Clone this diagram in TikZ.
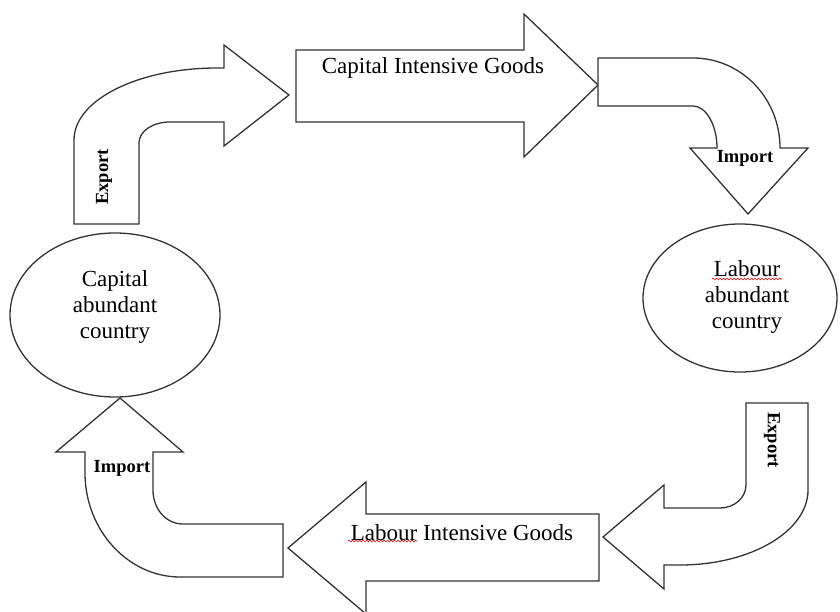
\documentclass[tikz,border=0pt]{standalone}
\usepackage{fontspec}
\setmainfont{Liberation Serif}
\usetikzlibrary{shapes.geometric,decorations.pathmorphing}
\begin{document}
\begin{tikzpicture}[x=1pt,y=-1pt,
  shapeline/.style={draw=black!80,line width=1.3pt,fill=white,line join=miter},
  country/.style={ellipse,draw=black!80,line width=1.3pt,inner sep=0pt},
  bigtxt/.style={font=\fontsize{23}{26}\selectfont,align=center,inner sep=0pt},
  smalltxt/.style={font=\fontsize{18.5}{20}\selectfont\bfseries,inner sep=0pt},
  spell/.style={draw=red!85!black,line width=0.6pt,decorate,decoration={snake,amplitude=0.9pt,segment length=3.5pt}}]
\useasboundingbox (0,0) rectangle (840,612);

% countries
\node[country,minimum width=210pt,minimum height=164pt] (cap) at (115,315) {};
\node[country,minimum width=194pt,minimum height=148pt] (lab) at (740,298) {};
\node[bigtxt] (captxt) at (115,307) {Capital\\abundant\\country};
\node[bigtxt] (labtxt) at (747,297) {Labour\\abundant\\country};

% top-left bent arrow (export)
\draw[shapeline] (74,224) -- (74,140) .. controls (74,100) and (138,68) .. (217,68)
  -- (224,68) -- (224,45) -- (289,95) -- (224,146) -- (224,122) -- (170,122)
  .. controls (153,122) and (139,131) .. (139,143) -- (139,224) -- cycle;

% top straight arrow
\draw[shapeline] (296,50) -- (524,50) -- (524,14) -- (598,85) -- (524,157)
  -- (524,122) -- (296,122) -- cycle;

% top-right bent arrow (import)
\draw[shapeline] (598,58) -- (693,58) .. controls (741,58) and (780,98) .. (780,148)
  -- (808,148) -- (748,214) -- (690,148) -- (717,148)
  .. controls (717,125) and (706,106) .. (693,106) -- (598,106) -- cycle;

% bottom-right bent arrow (export)
\draw[shapeline] (746,403) -- (808,403) -- (808,490)
  .. controls (808,531) and (751,565) .. (680,565) -- (664,565) -- (664,589)
  -- (603,537) -- (664,485) -- (664,508) -- (720,508)
  .. controls (734,508) and (746,498) .. (746,485) -- cycle;

% bottom straight arrow
\draw[shapeline] (599,514) -- (366,514) -- (366,482) -- (288,548) -- (366,614)
  -- (366,581) -- (599,581) -- cycle;

% bottom-left bent arrow (import)
\draw[shapeline] (120,398) -- (183,452) -- (153,452) -- (153,490)
  .. controls (153,509) and (166,524) .. (183,524) -- (283,524) -- (283,577)
  -- (180,577) .. controls (128,577) and (85,530) .. (85,473) -- (85,452)
  -- (56,452) -- cycle;

% labels
\node[bigtxt] (cig) at (433,68) {Capital Intensive Goods};
\node[bigtxt] (lig) at (462,533) {Labour Intensive Goods};
\node[smalltxt,rotate=90] (exp1) at (104,177) {Export};
\node[smalltxt] (imp1) at (745,158) {Import};
\node[smalltxt,rotate=-90] (exp2) at (772,440) {Export};
\node[smalltxt] (imp2) at (122,468) {Import};

% spell-check underlines
\draw[spell] (712,279) -- (782,279);
\draw[spell] (348,541) -- (417,541);
\end{tikzpicture}
\end{document}
